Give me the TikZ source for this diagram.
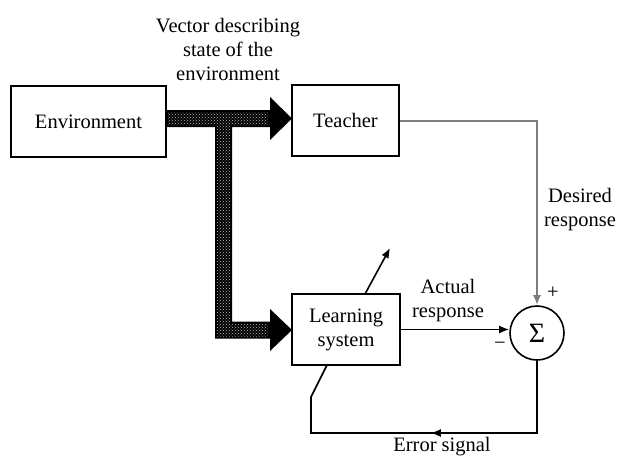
\documentclass[tikz,border=0pt]{standalone}
\usepackage{fontspec}
\setmainfont{Liberation Serif}
\usetikzlibrary{arrows.meta,patterns,calc}
\definecolor{lgray}{RGB}{125,125,125}
\begin{document}
\begin{tikzpicture}[x=1pt,y=-1pt,
  font=\fontsize{20.5}{24}\selectfont,
  box/.style={draw, line width=1.8pt, inner sep=0pt, align=center},
  lbl/.style={inner sep=0pt, align=center},
  conn/.style={draw=black, line width=1.6pt},
  gconn/.style={draw=lgray, line width=2pt},
  arr/.style={-{Latex[length=10pt,width=8pt]}}]
\fill[white] (0,0) rectangle (617,461);
\useasboundingbox (0,0) rectangle (617,461);

% blocks
\node[box, minimum width=155pt, minimum height=71pt] (env) at (88.5,121.5) {Environment};
\node[box, minimum width=107pt, minimum height=71pt] (teach) at (345.5,120.5) {Teacher};
\node[box, minimum width=108pt, minimum height=71pt] (learn) at (346,329.5) {Learning\\system};
\node[draw, circle, line width=1.6pt, minimum size=54pt, inner sep=0pt, font=\fontsize{28}{28}\selectfont] (sum) at (537,333) {Σ};

% thick input arrow (state vector)
\path[fill=black] (166,110) -- (270,110) -- (270,97) -- (292,118.5) -- (270,140) -- (270,127)
  -- (232,127) -- (232,321.5) -- (270,321.5) -- (270,309) -- (292,330) -- (270,351)
  -- (270,338.5) -- (215,338.5) -- (215,127) -- (166,127) -- cycle;
\path[pattern=crosshatch dots, pattern color=gray!55] (168,112) -- (268,112) -- (268,125)
  -- (230,125) -- (230,323.5) -- (268,323.5) -- (268,336.5) -- (217,336.5) -- (217,125)
  -- (168,125) -- cycle;

% teacher -> sum (desired response)
\draw[gconn, arr] (teach.east) -| (sum.north);

% learning -> sum (actual response)
\coordinate (aend) at (sum.west |- learn.east);
\draw[conn, arr] (learn.east) -- (aend);

% adjustment arrow through learning system
\coordinate (d1) at (365,294);
\coordinate (d2) at (390,248);
\draw[conn, arr] (d1) -- (d2);

% error feedback
\coordinate (e1) at (537,433);
\coordinate (e2) at (311,433);
\coordinate (e3) at (311,397);
\coordinate (e4) at (327,365);
\draw[conn] (sum.south) -- (e1) -- (e2) -- (e3) -- (e4);
\draw[conn, arr] (e1) -- ($(e1)!0.47!(e2)$);

% labels
\node[lbl] (vlab) at (228,49) {Vector describing\\state of the\\environment};
\node[lbl] (dlab) at (580,210) {Desired\\response};
\node[lbl] (alab) at (448,301) {Actual\\response};
\node[lbl] (elab) at (442,447) {Error signal};
\node[lbl] (plus) at (553,293) {+};
\node[lbl] (minus) at (500,346) {−};
\end{tikzpicture}
\end{document}
